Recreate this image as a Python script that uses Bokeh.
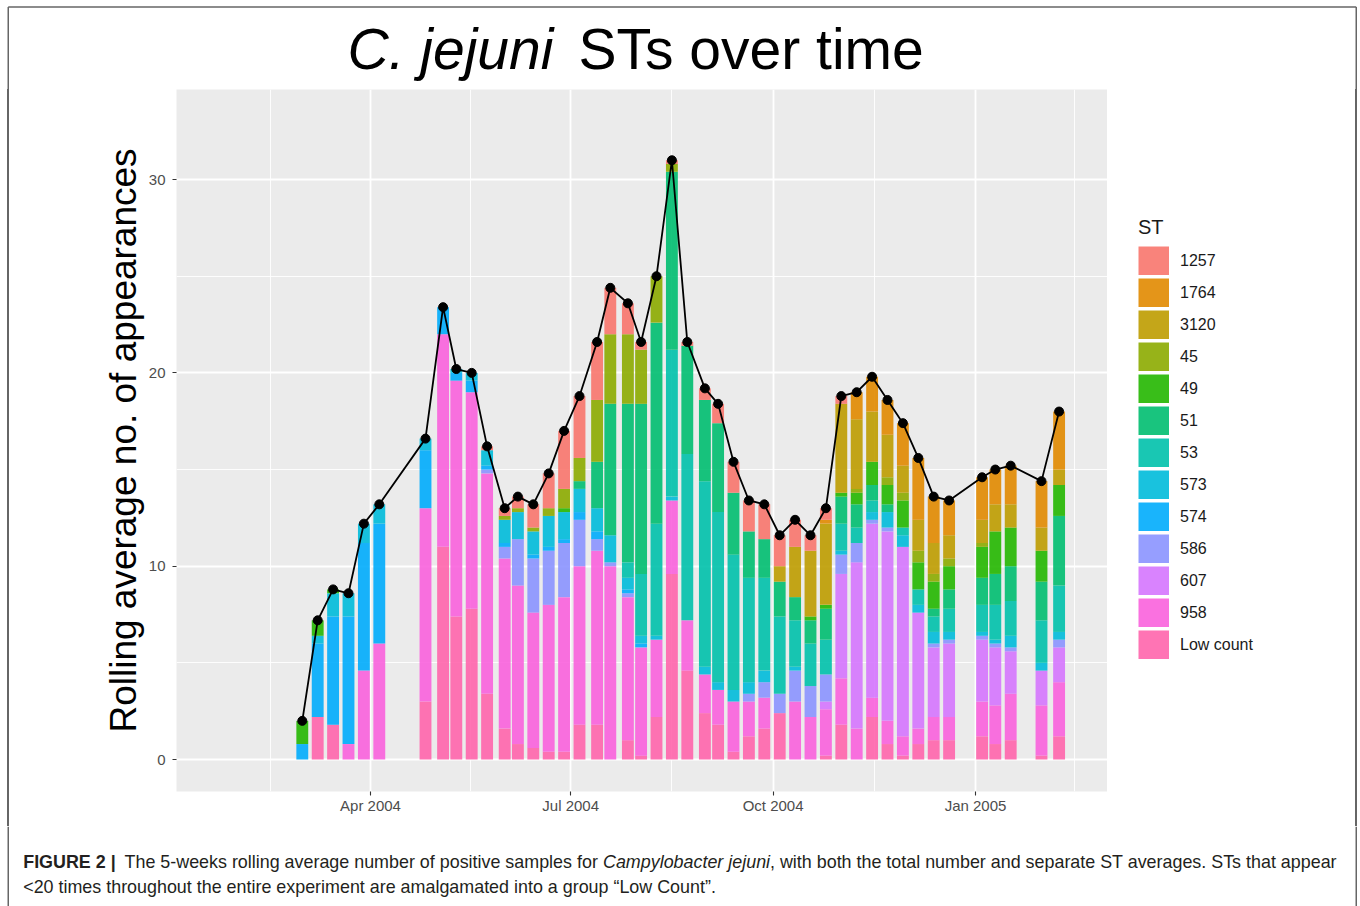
from datetime import datetime, timedelta
from bokeh.plotting import figure
from bokeh.layouts import column, row
from bokeh.models import (ColumnDataSource, Range1d, FixedTicker, DatetimeTickFormatter,
                          Label, Legend, LegendItem, Div)
from bokeh.embed import file_html
from bokeh.resources import INLINE

# ---------------- data ----------------
dates = ["2004-03-01", "2004-03-08", "2004-03-15", "2004-03-22", "2004-03-29", "2004-04-05",
         "2004-04-26", "2004-05-04", "2004-05-10", "2004-05-17", "2004-05-24", "2004-06-01",
         "2004-06-07", "2004-06-14", "2004-06-21", "2004-06-28", "2004-07-05", "2004-07-13",
         "2004-07-19", "2004-07-27", "2004-08-02", "2004-08-09", "2004-08-16", "2004-08-23",
         "2004-08-31", "2004-09-06", "2004-09-13", "2004-09-20", "2004-09-27", "2004-10-04",
         "2004-10-11", "2004-10-18", "2004-10-25", "2004-11-01", "2004-11-08", "2004-11-15",
         "2004-11-22", "2004-11-29", "2004-12-06", "2004-12-13", "2004-12-20", "2005-01-04",
         "2005-01-10", "2005-01-17", "2005-01-31", "2005-02-08"]

total = [2.0, 7.2, 8.8, 8.6, 12.2, 13.2, 16.6, 23.4, 20.2, 20.0, 16.2, 13.0, 13.6, 13.2, 14.8,
         17.0, 18.8, 21.6, 24.4, 23.6, 21.6, 25.0, 31.0, 21.6, 19.2, 18.4, 15.4, 13.4, 13.2,
         11.6, 12.4, 11.6, 13.0, 18.8, 19.0, 19.8, 18.6, 17.4, 15.6, 13.6, 13.4, 14.6, 15.0,
         15.2, 14.4, 18.0]

st_low = [0, 2.2, 1.8, 0, 0, 0, 3.0, 11.0, 7.4, 7.8, 3.4, 1.6, 0.8, 0.6, 0.4, 0.4, 1.8, 1.8, 0, 1.0,
          0.2, 2.2, 9.6, 4.6, 2.4, 1.8, 0.4, 1.2, 1.6, 2.4, 0, 0, 0.2, 1.8, 0, 2.2, 0.8, 0.2, 0.8, 1.0,
          1.0, 1.2, 0.8, 1.0, 0.2, 1.2]
st_958 = [0, 0, 0, 0.8, 4.6, 6.0, 10.0, 11.0, 12.2, 11.2, 11.4, 8.8, 8.2, 7.0, 7.6, 8.0, 8.2, 9.0, 10.0, 7.4,
          5.6, 4.0, 3.8, 2.6, 2.0, 1.8, 2.6, 1.8, 1.6, 0, 3.0, 2.2, 2.4, 2.4, 1.6, 1.0, 1.2, 1.0, 0.8, 1.2,
          1.2, 1.8, 2.0, 2.4, 2.6, 2.8]
st_607 = [0, 0, 0, 0, 0, 0, 0, 0, 0, 0, 0, 0, 0, 0, 0, 0, 0, 0, 0, 0,
          0, 0, 0, 0, 0, 0, 0, 0, 0, 0, 0, 0, 0.4, 5.4, 8.6, 9.0, 9.8, 9.8, 6.0, 3.6,
          3.8, 3.2, 3.0, 2.2, 1.8, 1.8]
st_586 = [0, 0, 0, 0, 0, 0, 0, 0, 0, 0, 0.2, 0.6, 2.4, 2.8, 2.8, 2.8, 2.4, 0.6, 0.2, 0.2,
          0, 0, 0, 0, 0, 0, 0, 0.4, 0.8, 1.0, 1.6, 1.6, 1.4, 1.0, 1.0, 0.2, 0.2, 0, 0, 0.2,
          0.2, 0.2, 0.2, 0.2, 0, 0.4]
st_574 = [0.8, 3.8, 5.6, 6.6, 6.6, 6.2, 3.0, 1.4, 0.4, 0.6, 0.2, 0.2, 0, 0.2, 0.2, 0.2, 0.4, 0.4, 0, 0.2,
          0.2, 0, 0, 0, 0, 0, 0, 0, 0, 0, 0, 0, 0, 0, 0, 0, 0, 0, 0, 0,
          0, 0, 0, 0, 0, 0]
st_573 = [0, 0.4, 1.2, 1.2, 1.0, 1.0, 0.6, 0, 0.2, 0.4, 0.8, 1.2, 1.4, 1.2, 1.6, 1.4, 1.2, 1.2, 1.4, 0.6,
          0.4, 0.2, 0.2, 0, 0.4, 0.4, 0.6, 0.6, 0.6, 0, 0.2, 0, 0, 0.2, 0, 0.4, 0.8, 0.6, 0.4, 0.6,
          0.4, 0.2, 0.2, 0.6, 0.4, 0.4]
st_53 = [0, 0, 0, 0, 0, 0, 0, 0, 0, 0, 0, 0, 0, 0, 0, 0, 0, 0, 0, 0.8,
         3.2, 5.8, 7.6, 8.6, 9.6, 8.8, 7.0, 5.4, 4.8, 4.0, 2.4, 2.2, 1.8, 1.4, 0.8, 0.6, 0, 0.4, 0.8, 0.8,
         1.2, 1.4, 1.8, 1.8, 2.2, 2.4]
st_51 = [0, 0, 0, 0, 0, 0, 0, 0, 0, 0, 0, 0, 0, 0, 0, 0, 0.4, 2.4, 6.8, 8.2,
         8.8, 10.4, 9.2, 5.6, 4.2, 4.6, 3.2, 2.4, 2.0, 1.8, 1.2, 1.2, 1.6, 1.4, 1.2, 0.8, 0.4, 0, 0, 0.4,
         1.0, 1.4, 1.6, 1.8, 2.0, 3.6]
st_49 = [1.2, 0.8, 0.2, 0, 0, 0, 0, 0, 0, 0, 0, 0, 0, 0, 0, 0.2, 0, 0, 0, 0,
         0, 0, 0, 0, 0, 0, 0, 0, 0, 0, 0, 0.2, 0.2, 0.2, 0.6, 1.2, 1.0, 1.4, 1.4, 1.4,
         1.2, 1.6, 2.2, 2.0, 1.6, 1.6]
st_45 = [0, 0, 0, 0, 0, 0, 0, 0, 0, 0, 0, 0.2, 0.2, 0.2, 0.4, 1.0, 1.2, 3.2, 3.6, 3.6,
         2.8, 2.4, 0.4, 0, 0, 0, 0, 0, 0, 0, 0, 0, 0, 0, 0.2, 0, 0.4, 0.4, 0.6, 0.4,
         0.4, 0.2, 0, 0, 0, 0]
st_3120 = [0, 0, 0, 0, 0, 0, 0, 0, 0, 0, 0, 0, 0, 0, 0, 0, 0, 0, 0, 0,
           0, 0, 0, 0, 0, 0, 0, 0, 0, 0.8, 2.6, 3.4, 4.2, 4.6, 3.6, 2.6, 2.2, 1.4, 1.6, 1.6,
           1.2, 1.2, 1.4, 1.2, 1.2, 0.8]
st_1764 = [0, 0, 0, 0, 0, 0, 0, 0, 0, 0, 0, 0, 0, 0, 0, 0, 0, 0, 0, 0,
           0, 0, 0, 0, 0, 0, 0, 0, 0, 0, 0, 0, 0.2, 0, 1.4, 1.8, 1.8, 2.2, 3.2, 2.4,
           1.8, 2.2, 1.8, 2.0, 2.4, 3.0]
st_1257 = [0, 0, 0, 0, 0, 0, 0, 0, 0, 0, 0.2, 0.4, 0.6, 1.2, 1.8, 3.0, 3.2, 3.0, 2.4, 1.6,
           0.4, 0, 0.2, 0.2, 0.6, 1.0, 1.6, 1.6, 1.8, 1.6, 1.4, 0.8, 0.6, 0.4, 0, 0, 0, 0, 0, 0,
           0, 0, 0, 0, 0, 0]

# legend order (top of stack first)
st_names = ["1257", "1764", "3120", "45", "49", "51", "53", "573", "574", "586", "607", "958", "Low count"]
st_values = [st_1257, st_1764, st_3120, st_45, st_49, st_51, st_53, st_573, st_574, st_586, st_607,
             st_958, st_low]
st_colors = ["#F8766D", "#E18A00", "#BE9C00", "#8CAB00", "#24B700", "#00BE70", "#00C1AB",
             "#00BBDA", "#00ACFC", "#8B93FF", "#D575FE", "#F962DD", "#FF65AC"]

y_ticks = [0, 10, 20, 30]
y_minor = [5, 15, 25]
x_tick_dates = ["2004-01-01", "2004-04-01", "2004-07-01", "2004-10-01", "2005-01-01", "2005-04-01"]

title_italic = "C. jejuni"
title_rest = "STs over time"
y_label = "Rolling average no. of appearances"
caption_parts = [("FIGURE 2 |", "bold"),
                 ("The 5-weeks rolling average number of positive samples for", "normal"),
                 ("Campylobacter jejuni", "italic"),
                 (", with both the total number and separate ST averages. STs that appear", "normal")]
caption_line2 = "<20 times throughout the entire experiment are amalgamated into a group \u201cLow Count\u201d."

# ---------------- helpers ----------------
EPOCH = datetime(1970, 1, 1)
def to_ms(dt):
    return (dt - EPOCH).total_seconds() * 1000.0

FONT = "Liberation Sans"
BORDER = "#666666"
BW = 1.5
XL, XR, YT = 7.75, 1355.75, 6.5   # page frame lines (canvas px)
MID = 0.35  # baseline -> middle offset (em)
KEY_W, KEY_H = 31, 29

def blank_fig(w, h, x0, x1, y0, y1):
    f = figure(width=w, height=h, x_range=Range1d(x0, x1), y_range=Range1d(y1, y0),
               x_axis_type=None, y_axis_type=None, toolbar_location=None, output_backend="svg",
               min_border=0, min_border_left=0, min_border_right=0, min_border_top=0,
               min_border_bottom=0)
    f.outline_line_color = None
    f.background_fill_color = "white"
    f.border_fill_color = "white"
    f.xgrid.visible = False
    f.ygrid.visible = False
    return f

def text_at(fig, txt, x, baseline, size, style="normal", color="black"):
    fig.add_layout(Label(x=x, y=baseline - MID * size, text=txt, text_font=FONT,
                         text_font_size=f"{size}px", text_font_style=style, text_color=color,
                         text_baseline="middle", text_align="left"))

def vline_div(width, offset, height):
    html = (f'<div style="margin:0;padding:0;margin-left:{offset}px;width:1.5px;'
            f'height:{height}px;background:{BORDER};"></div>')
    return Div(text=html, width=width, height=height, margin=0,
               styles={"padding": "0", "overflow": "hidden"})

# ---------------- title strip ----------------
top = blank_fig(1360, 89, 0, 1360, 0, 89)
top.segment(x0=[XL, XL, XR], y0=[YT, YT, YT], x1=[XR, XL, XR], y1=[YT, 89, 89],
            line_color=BORDER, line_width=BW)
text_at(top, title_italic, 347, 68, 57, style="italic")
text_at(top, title_rest, 578, 68, 57)

# ---------------- main chart ----------------
xs = [datetime.strptime(d, "%Y-%m-%d") for d in dates]
data = {"x": xs, "total": total}
for n, v in zip(st_names, st_values):
    data[n] = v
src = ColumnDataSource(data)

tick_dt = [datetime.strptime(d, "%Y-%m-%d") for d in x_tick_dates]
major_ms = [to_ms(t) for t in tick_dt[1:-1]]
minor_ms = [(to_ms(a) + to_ms(b)) / 2.0 for a, b in zip(tick_dt[:-1], tick_dt[1:])]

ref = datetime(2004, 4, 1)
x_start = ref - timedelta(days=88.18)
x_end = ref + timedelta(days=335.0)

p = figure(width=1097, height=737, x_axis_type="datetime",
           x_range=Range1d(x_start, x_end), y_range=Range1d(-1.655, 34.66),
           min_border_left=166, min_border_right=0, min_border_top=0, min_border_bottom=35,
           toolbar_location=None, output_backend="svg")
p.background_fill_color = "#EBEBEB"
p.border_fill_color = "white"
p.outline_line_color = None

stack_order = list(reversed(st_names))
stack_colors = list(reversed(st_colors))
BAR_W = 5.4 * 86400000
p.vbar_stack(stack_order, x="x", width=BAR_W, source=src,
             fill_color=stack_colors, fill_alpha=0.9, line_color=None)

p.line(x="x", y="total", source=src, line_color="black", line_width=1.8)
p.scatter(x="x", y="total", source=src, size=9, fill_color="black", line_color="black")

xt = FixedTicker(ticks=major_ms, minor_ticks=minor_ms)
yt = FixedTicker(ticks=y_ticks, minor_ticks=y_minor)
p.xaxis.ticker = xt
p.xgrid.ticker = xt
p.yaxis.ticker = yt
p.ygrid.ticker = yt
p.xaxis.formatter = DatetimeTickFormatter(months="%b %Y", days="%b %Y", years="%b %Y")
for ax in (p.xaxis, p.yaxis):
    ax.axis_line_color = None
    ax.major_tick_line_color = "#333333"
    ax.major_tick_line_width = 1.1
    ax.major_tick_out = 4
    ax.major_tick_in = 0
    ax.minor_tick_line_color = None
    ax.major_label_text_color = "#4D4D4D"
    ax.major_label_text_font = FONT
    ax.major_label_text_font_size = "15px"
p.xaxis.major_label_standoff = 1
p.yaxis.major_label_standoff = 7
p.yaxis.axis_label = y_label
p.yaxis.axis_label_text_font = FONT
p.yaxis.axis_label_text_font_size = "37px"
p.yaxis.axis_label_text_font_style = "normal"
p.yaxis.axis_label_text_color = "black"
p.yaxis.axis_label_standoff = 2

for g in (p.xgrid, p.ygrid):
    g.grid_line_color = "white"
    g.grid_line_width = 1.8
    g.minor_grid_line_color = "white"
    g.minor_grid_line_width = 0.9

# ---------------- legend strip ----------------
# Key proxies: the same series drawn as thick butt-capped lines, kept outside this strip's range,
# so each legend key is a solid KEY_W x KEY_H swatch.
lf = blank_fig(247, 737, 0, 1, 0, 1)
items = []
for n, c in zip(st_names, st_colors):
    r = lf.line(x="x", y=n, source=src, line_color=c, line_alpha=0.9, line_width=KEY_H,
                line_cap="butt")
    items.append(LegendItem(label=n, renderers=[r]))
legend = Legend(items=items, location=(31, 132), title="ST",
                title_text_font=FONT, title_text_font_size="20px", title_text_font_style="normal",
                title_text_color="#1A1A1A", title_standoff=7,
                label_text_font=FONT, label_text_font_size="16px", label_text_color="#1A1A1A",
                label_standoff=11, glyph_width=KEY_W, glyph_height=KEY_H, spacing=3,
                padding=0, margin=0, border_line_color=None, background_fill_alpha=0)
lf.add_layout(legend, "center")

left_line = vline_div(10, 7, 737)
right_line = vline_div(6, 1, 737)

# ---------------- caption strip ----------------
cap = blank_fig(1360, 80, 0, 1360, 826, 906)
cap.segment(x0=[XL, XR], y0=[826, 826], x1=[XL, XR], y1=[906, 906], line_color=BORDER, line_width=BW)
cap_col = "#231F20"
cap_x = [22.7, 124, 602.5, 769.5]
for (txt, style), cx in zip(caption_parts, cap_x):
    text_at(cap, txt, cx, 867.5, 17.9, style=style, color=cap_col)
text_at(cap, caption_line2, 22.7, 892.7, 17.9, color=cap_col)

layout = column(top, row(left_line, p, lf, right_line, spacing=0), cap, spacing=0)
open("out.html", "w").write(file_html(layout, INLINE))
